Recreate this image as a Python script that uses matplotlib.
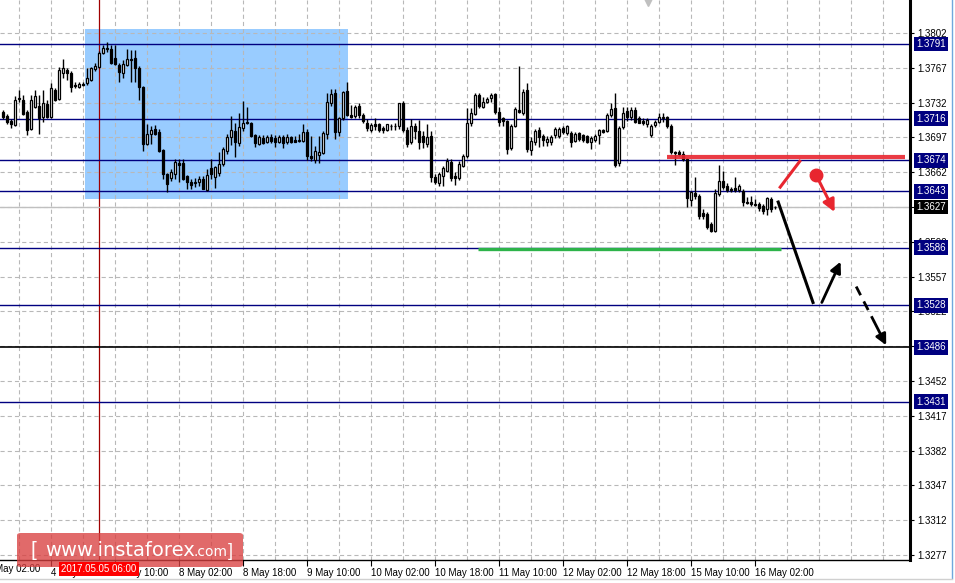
import matplotlib.pyplot as plt
import numpy as np
from matplotlib.patches import Rectangle, FancyBboxPatch
from matplotlib.lines import Line2D
from matplotlib.transforms import blended_transform_factory

plt.rcParams['font.family'] = ['Liberation Sans', 'DejaVu Sans']
plt.rcParams['lines.scale_dashes'] = False

# GBP/USD H1 candles, values are pips above 1.3000 (1.3723 -> 723)
open_pips = [723, 719, 714, 709, 736, 735, 723, 705, 728, 729,
             718, 731, 718, 745, 736, 762, 765, 762, 750, 748,
             751, 752, 755, 766, 768, 782, 786, 786, 777, 770,
             762, 770, 776, 777, 767, 748, 690, 700, 705, 702,
             684, 660, 656, 660, 671, 671, 658, 652, 651, 652,
             655, 644, 666, 657, 661, 670, 683, 697, 703, 691,
             706, 713, 712, 699, 690, 696, 692, 697, 696, 692,
             697, 692, 697, 694, 693, 693, 702, 678, 674, 679,
             681, 700, 732, 742, 702, 717, 744, 720, 719, 729,
             720, 712, 704, 710, 710, 706, 704, 708, 708, 708,
             732, 704, 692, 708, 703, 698, 690, 698, 657, 651,
             658, 663, 672, 658, 656, 668, 678, 712, 721, 740,
             728, 733, 737, 741, 723, 717, 714, 686, 708, 725,
             722, 745, 684, 692, 704, 698, 692, 692, 699, 698,
             706, 701, 701, 693, 701, 699, 698, 692, 694, 699,
             704, 703, 720, 727, 671, 707, 724, 718, 725, 717,
             714, 710, 699, 709, 713, 717, 718, 708, 682, 682,
             680, 675, 634, 641, 638, 621, 620, 610, 603, 640,
             653, 648, 645, 646, 644, 643, 632, 632, 630, 630,
             628, 625, 635, 627]
high_pips = [725, 721, 716, 739, 745, 740, 725, 740, 745, 740,
             745, 735, 752, 747, 768, 776, 767, 764, 753, 753,
             753, 767, 768, 772, 784, 790, 793, 790, 790, 772,
             775, 786, 785, 785, 769, 749, 710, 708, 709, 705,
             685, 661, 665, 675, 675, 675, 659, 655, 656, 658,
             658, 665, 675, 668, 682, 687, 700, 719, 712, 722,
             734, 728, 713, 700, 699, 699, 699, 700, 699, 699,
             699, 700, 698, 698, 700, 710, 705, 698, 688, 698,
             703, 742, 746, 746, 718, 744, 753, 730, 730, 732,
             722, 716, 712, 717, 712, 708, 710, 710, 712, 732,
             734, 707, 716, 711, 715, 703, 710, 703, 660, 662,
             668, 676, 675, 662, 673, 680, 727, 727, 742, 742,
             738, 738, 742, 742, 728, 718, 715, 710, 728, 769,
             746, 752, 697, 705, 707, 700, 698, 699, 707, 707,
             708, 709, 703, 702, 702, 700, 699, 698, 700, 705,
             705, 722, 732, 742, 708, 728, 728, 728, 728, 719,
             717, 717, 710, 715, 722, 722, 719, 710, 683, 684,
             683, 676, 643, 657, 640, 625, 622, 612, 645, 669,
             663, 651, 647, 657, 650, 645, 637, 638, 635, 632,
             630, 637, 637, 628]
low_pips = [716, 710, 706, 708, 733, 720, 699, 704, 727, 700,
            713, 717, 717, 734, 735, 757, 755, 743, 747, 747,
            749, 750, 754, 764, 767, 781, 783, 771, 770, 753,
            757, 769, 753, 753, 735, 683, 689, 690, 699, 682,
            655, 642, 653, 655, 652, 654, 645, 645, 647, 648,
            645, 643, 655, 646, 658, 668, 680, 689, 677, 688,
            703, 710, 697, 687, 689, 690, 691, 691, 687, 691,
            686, 690, 691, 692, 692, 692, 674, 673, 671, 671,
            680, 695, 729, 695, 698, 715, 719, 717, 717, 717,
            712, 703, 702, 704, 702, 701, 703, 704, 704, 705,
            702, 687, 690, 695, 685, 686, 687, 652, 650, 648,
            648, 662, 653, 649, 654, 667, 676, 708, 720, 727,
            727, 732, 733, 721, 708, 708, 680, 684, 707, 722,
            720, 682, 679, 689, 687, 688, 688, 689, 696, 696,
            700, 699, 687, 692, 693, 692, 691, 685, 692, 690,
            701, 702, 718, 667, 668, 705, 714, 715, 712, 711,
            709, 707, 697, 707, 712, 713, 706, 680, 669, 678,
            673, 627, 628, 635, 615, 615, 605, 602, 602, 638,
            645, 642, 642, 642, 642, 628, 630, 628, 628, 623,
            620, 619, 622, 625]
close_pips = [718, 713, 710, 735, 737, 721, 704, 735, 739, 717,
              732, 718, 747, 735, 765, 767, 762, 748, 749, 751,
              750, 757, 767, 769, 782, 787, 787, 772, 771, 763,
              771, 776, 775, 767, 748, 690, 700, 704, 700, 683,
              660, 650, 662, 672, 669, 655, 652, 649, 652, 655,
              645, 659, 660, 667, 670, 685, 697, 704, 692, 707,
              712, 711, 698, 691, 697, 691, 697, 693, 692, 697,
              691, 697, 692, 692, 694, 702, 678, 676, 683, 682,
              701, 733, 741, 702, 717, 743, 720, 718, 728, 720,
              714, 706, 709, 708, 704, 704, 710, 708, 708, 732,
              704, 690, 708, 703, 692, 692, 697, 657, 652, 660,
              666, 673, 656, 656, 670, 678, 712, 722, 740, 729,
              733, 736, 740, 723, 713, 714, 685, 708, 726, 723,
              743, 685, 693, 703, 697, 694, 695, 697, 705, 705,
              702, 708, 692, 700, 695, 694, 692, 696, 698, 704,
              702, 720, 726, 669, 706, 722, 718, 725, 713, 712,
              711, 715, 708, 713, 718, 718, 708, 682, 681, 680,
              675, 636, 642, 638, 618, 618, 607, 603, 641, 653,
              647, 644, 644, 644, 648, 632, 631, 630, 629, 626,
              623, 636, 625, 627]

tick_bars = [-4, 12, 28, 44, 60, 76, 92, 108, 124, 140, 156, 172, 188]
tick_labels = ['4 May 02:00', '4 May 18:00', '5 May 10:00', '8 May 02:00',
               '8 May 18:00', '9 May 10:00', '10 May 02:00', '10 May 18:00',
               '11 May 10:00', '12 May 02:00', '12 May 18:00', '15 May 10:00',
               '16 May 02:00']
price_ticks = [1.3277, 1.3312, 1.3347, 1.3382, 1.3417, 1.3452, 1.3487, 1.3522,
               1.3557, 1.3592, 1.3627, 1.3662, 1.3697, 1.3732, 1.3767, 1.3802]
blue_levels = [1.3791, 1.3716, 1.3674, 1.3643, 1.3586, 1.3528, 1.3431]
black_level = 1.3486
bid = 1.3627

# analysis objects (bar index, price)
zone_bars = [20.5, 86.25]
zone_prices = [1.3635, 1.3806]
resist_bars = [166, 225.5]
resist_price = 1.3677
support_bars = [118.75, 194.5]
support_price = 1.3585
main_path_bars = [193.8, 202.5]
main_path_prices = [1.3632, 1.3531]
rebound_bars = [204.7, 209.4]
rebound_prices = [1.3531, 1.3572]
break_bars = [213.3, 220.8]
break_prices = [1.3547, 1.3488]
alt_line_bars = [194.3, 199.2]
alt_line_prices = [1.3647, 1.3673]
alt_arrow_bars = [203.3, 207.9]
alt_arrow_prices = [1.3659, 1.3622]
cursor_bar = 24
marker_bar = 161.25

opens = 1.3 + np.array(open_pips) / 10000
highs = 1.3 + np.array(high_pips) / 10000
lows = 1.3 + np.array(low_pips) / 10000
closes = 1.3 + np.array(close_pips) / 10000
bars = np.arange(len(opens))

fig = plt.figure(figsize=(9.55, 5.83), dpi=100)
ax = fig.add_axes([0, 23 / 583, 910 / 955, 560 / 583])

# grid
for b in range(-4, 228, 8):
    ax.axvline(b, color='#b8b8b8', lw=0.8, dashes=(3, 2.2), zorder=1)
for p in price_ticks:
    ax.axhline(p, color='#b8b8b8', lw=0.8, dashes=(3, 2.2), zorder=1)

ax.add_patch(Rectangle((zone_bars[0], zone_prices[0]), zone_bars[1] - zone_bars[0],
                       zone_prices[1] - zone_prices[0], fc='#99ccff', ec='none', zorder=0.5))

ax.axvline(cursor_bar, color='#a00000', lw=0.9, zorder=1.5)

for lv in blue_levels:
    ax.axhline(lv, color='#000080', lw=1.0, zorder=2)
ax.axhline(black_level, color='black', lw=1.2, zorder=2)
ax.axhline(bid, color='#c0c0c0', lw=1.0, zorder=1.6)

# candles
up = closes >= opens
body_lo = np.minimum(opens, closes)
body_h = np.maximum(np.abs(closes - opens), 0.00004)
ax.vlines(bars, lows, highs, color='black', lw=1.0, zorder=3)
ax.bar(bars[up], body_h[up], bottom=body_lo[up], width=0.55, color='white',
       edgecolor='black', lw=0.9, zorder=4)
ax.bar(bars[~up], body_h[~up], bottom=body_lo[~up], width=0.55, color='black',
       edgecolor='black', lw=0.9, zorder=4)

# analysis drawings
ax.plot(resist_bars, [resist_price] * 2, color='#e8262f', lw=3, alpha=0.9,
        solid_capstyle='butt', zorder=5)
ax.plot(support_bars, [support_price] * 2, color='#2db34a', lw=2.4,
        solid_capstyle='butt', zorder=5)
ax.plot(main_path_bars, main_path_prices, color='black', lw=2.2, zorder=5)
ax.annotate('', xy=(rebound_bars[1], rebound_prices[1]), xytext=(rebound_bars[0], rebound_prices[0]),
            arrowprops=dict(arrowstyle='-|>', color='black', lw=2.0, mutation_scale=16,
                            shrinkA=0, shrinkB=0), zorder=5)
mid_b = break_bars[0] + (break_bars[1] - break_bars[0]) * 0.6
mid_p = break_prices[0] + (break_prices[1] - break_prices[0]) * 0.6
ax.plot([break_bars[0], mid_b], [break_prices[0], mid_p],
        color='black', lw=2.0, dashes=(7, 5), zorder=5)
ax.annotate('', xy=(break_bars[1], break_prices[1]), xytext=(mid_b, mid_p),
            arrowprops=dict(arrowstyle='-|>', color='black', lw=2.0, mutation_scale=16,
                            shrinkA=0, shrinkB=0), zorder=5)
ax.plot(alt_line_bars, alt_line_prices, color='#e8262f', lw=2.2, zorder=5)
ax.plot(alt_arrow_bars[0], alt_arrow_prices[0], 'o', color='#e8262f', ms=9, zorder=6)
ax.annotate('', xy=(alt_arrow_bars[1], alt_arrow_prices[1]), xytext=(alt_arrow_bars[0], alt_arrow_prices[0]),
            arrowprops=dict(arrowstyle='-|>', color='#e8262f', lw=2.2, mutation_scale=18,
                            shrinkA=0, shrinkB=0), zorder=5)

# grey marker peeking in at the top edge
ax.plot(marker_bar, 1.3837, marker='v', ms=11, color='#c0c0c0', zorder=5)

# axes styling
for s in ['top', 'left']:
    ax.spines[s].set_visible(False)
ax.spines['right'].set_linewidth(2.2)
ax.spines['bottom'].set_linewidth(1.0)
ax.set_xticks(tick_bars[1:])
ax.set_xticklabels(tick_labels[1:], ha='left')
ax.tick_params(axis='x', length=4, width=0.8, pad=1.5, labelsize=7)
ax.yaxis.tick_right()
ax.set_yticks(price_ticks)
ax.set_yticklabels([f'{p:.4f}' for p in price_ticks])
ax.tick_params(axis='y', length=3, width=0.8, pad=2, labelsize=7)
ax.set_xlim(-0.75, 226.75)
ax.set_ylim(1.32720, 1.38352)

# first date label is cut by the left edge
ax.text(tick_bars[0], -0.0155, tick_labels[0], transform=blended_transform_factory(ax.transData, ax.transAxes),
        fontsize=7, ha='left', va='center', clip_on=False)

tr = blended_transform_factory(ax.transAxes, ax.transData)
for lv in blue_levels + [black_level]:
    ax.text(1 + 6 / 910, lv, f'{lv:.4f}', transform=tr, color='white', fontsize=7,
            va='center', ha='left', clip_on=False, zorder=10,
            bbox=dict(boxstyle='square,pad=0.25', fc='#000080', ec='none'))
ax.text(1 + 6 / 910, bid, f'{bid:.4f}', transform=tr, color='white', fontsize=7,
        va='center', ha='left', clip_on=False, zorder=10,
        bbox=dict(boxstyle='square,pad=0.25', fc='black', ec='none'))

# window frame lines
fig.add_artist(Line2D([952 / 955, 952 / 955], [1 - 578 / 583, 1], transform=fig.transFigure,
                      color='#6fa8dc', lw=1.0))
fig.add_artist(Line2D([0, 952 / 955], [1 - 579 / 583, 1 - 579 / 583], transform=fig.transFigure,
                      color='#d0d0d0', lw=1.0))

# cursor date label
fig.text(99 / 955, 1 - 569 / 583, '2017.05.05 06:00', color='white', fontsize=7,
         ha='center', va='center',
         bbox=dict(boxstyle='square,pad=0.25', fc='#ff0000', ec='none'))

# watermark
fig.add_artist(FancyBboxPatch((17 / 955, 1 - 567 / 583), 226 / 955, 34 / 583,
                              boxstyle='round,pad=0,rounding_size=0.004',
                              transform=fig.transFigure, fc='#d94040', ec='none', alpha=0.78))
fig.text(30 / 955, 1 - 551 / 583, '[', color='white', fontsize=15, ha='left', va='center')
fig.text(45 / 955, 1 - 551 / 583, 'www.instaforex', color='white', fontsize=14,
         ha='left', va='center', family='DejaVu Sans')
fig.text(193 / 955, 1 - 552 / 583, '.com', color='white', fontsize=10,
         ha='left', va='center', family='DejaVu Sans')
fig.text(228 / 955, 1 - 551 / 583, ']', color='white', fontsize=13, ha='left', va='center')

fig.savefig('out.png', dpi=100)
